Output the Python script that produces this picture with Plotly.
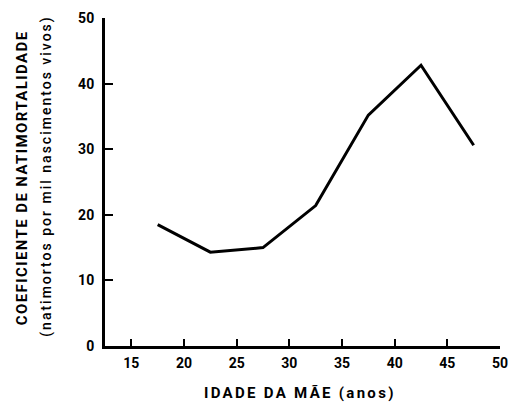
import plotly.graph_objects as go

idade = [17.5, 22.5, 27.5, 32.5, 37.5, 42.5, 47.5]
coeficiente = [18.5, 14.3, 15.0, 21.4, 35.2, 42.8, 30.6]
x_ticks = [15, 20, 25, 30, 35, 40, 45, 50]
y_ticks = [0, 10, 20, 30, 40, 50]

FONT = "Roboto"
W, H = 518, 406
l, r, t, b = 105, 10, 15, 60
pw, ph = W - l - r, H - t - b


def px(xp):
    return (xp - l) / pw


def py(yp):
    return (H - b - yp) / ph


fig = go.Figure()
fig.add_trace(go.Scatter(x=idade, y=coeficiente, mode="lines",
                         line=dict(color="black", width=3), showlegend=False))

tickfont = dict(size=14, family=FONT, weight="bold", color="black")
fig.update_layout(
    width=W, height=H,
    margin=dict(l=l, r=r, t=t, b=b),
    paper_bgcolor="white", plot_bgcolor="white",
    font=dict(family=FONT, color="black"),
    xaxis=dict(range=[12.5, 50], tickvals=x_ticks, ticks="inside", ticklen=7,
               tickwidth=2, tickcolor="black", showline=True, linewidth=3,
               linecolor="black", showgrid=False, zeroline=False,
               tickfont=tickfont, ticklabelstandoff=2, ticklabeloverflow="allow"),
    yaxis=dict(range=[0, 50], tickvals=y_ticks, ticks="inside", ticklen=8,
               tickwidth=2, tickcolor="black", showline=True, linewidth=3,
               linecolor="black", showgrid=False, zeroline=False,
               tickfont=tickfont, ticklabelstandoff=5, ticklabeloverflow="allow"),
)

fig.add_annotation(text='<span style="letter-spacing:2.3px">IDADE DA MÃE (anos)</span>',
                   x=px(304), y=py(393), xref="paper", yref="paper", showarrow=False,
                   font=dict(size=15, weight="bold"), xanchor="center", yanchor="middle")
fig.add_annotation(text='<span style="letter-spacing:1.4px">COEFICIENTE DE NATIMORTALIDADE</span>',
                   x=px(20), y=py(176), xref="paper", yref="paper", showarrow=False,
                   font=dict(size=15, weight="bold"), textangle=-90,
                   xanchor="center", yanchor="middle")
fig.add_annotation(text='<span style="letter-spacing:2px">(natimortos por mil nascimentos vivos)</span>',
                   x=px(45), y=py(175), xref="paper", yref="paper", showarrow=False,
                   font=dict(size=14, weight=500), textangle=-90,
                   xanchor="center", yanchor="middle")

fig.write_html("out.html", config={"displayModeBar": False},
               post_script="document.body.style.margin='0';")
